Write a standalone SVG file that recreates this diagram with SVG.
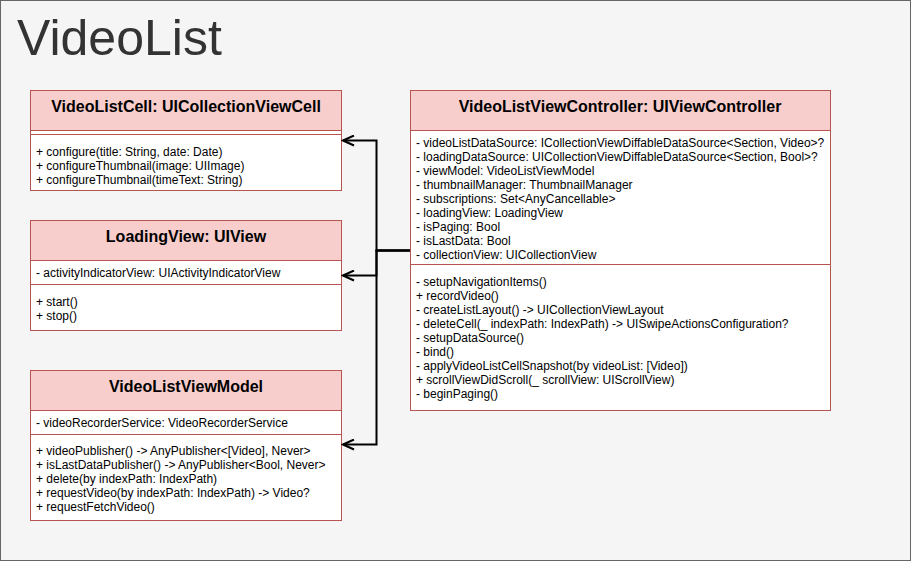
<svg xmlns="http://www.w3.org/2000/svg" width="911" height="561" viewBox="0 0 911 561">
<style>
.hd{fill:#f8cecc;stroke:#b85450;stroke-width:1}
.bd{fill:#ffffff;stroke:#b85450;stroke-width:1}
.dv{stroke:#b85450;stroke-width:1;fill:none}
.tt{font-family:"Liberation Sans",Arial,Helvetica,sans-serif;font-weight:bold;font-size:16px;fill:#000;text-anchor:middle}
.tx{font-family:"Liberation Sans",Arial,Helvetica,sans-serif;font-size:12px;fill:#000}
.cn{stroke:#000;stroke-width:2;fill:none}
</style>
<defs>
<marker id="open" viewBox="0 0 14 12" refX="12" refY="6" markerWidth="14" markerHeight="12" markerUnits="userSpaceOnUse" orient="auto">
<path d="M1,1 L12,6 L1,11" fill="none" stroke="#000" stroke-width="2"/>
</marker>
</defs>
<rect x="0.5" y="0.5" width="910" height="560" fill="#f5f5f5" stroke="#666666" stroke-width="1"/>
<text x="17" y="55" font-family="'Liberation Sans',Arial,Helvetica,sans-serif" font-size="50" fill="#333333">VideoList</text>

<g id="VideoListCell">
<rect class="bd" x="30.5" y="90.5" width="311" height="100"/>
<rect class="hd" x="30.5" y="90.5" width="311" height="40"/>
<line class="dv" x1="30.5" y1="134.5" x2="341.5" y2="134.5"/>
<text class="tt" x="186" y="112">VideoListCell: UICollectionViewCell</text>
<text class="tx" x="36" y="156">+ configure(title: String, date: Date)</text>
<text class="tx" x="36" y="170">+ configureThumbnail(image: UIImage)</text>
<text class="tx" x="36" y="184">+ configureThumbnail(timeText: String)</text>
</g>

<g id="LoadingView">
<rect class="bd" x="30.5" y="220.5" width="311" height="110"/>
<rect class="hd" x="30.5" y="220.5" width="311" height="40"/>
<line class="dv" x1="30.5" y1="284.5" x2="341.5" y2="284.5"/>
<text class="tt" x="186" y="242">LoadingView: UIView</text>
<text class="tx" x="36" y="277">- activityIndicatorView: UIActivityIndicatorView</text>
<text class="tx" x="36" y="306">+ start()</text>
<text class="tx" x="36" y="320">+ stop()</text>
</g>

<g id="VideoListViewModel">
<rect class="bd" x="30.5" y="370.5" width="311" height="150"/>
<rect class="hd" x="30.5" y="370.5" width="311" height="40"/>
<line class="dv" x1="30.5" y1="434.5" x2="341.5" y2="434.5"/>
<text class="tt" x="186" y="392">VideoListViewModel</text>
<text class="tx" x="36" y="427">- videoRecorderService: VideoRecorderService</text>
<text class="tx" x="36" y="455">+ videoPublisher() -&gt; AnyPublisher&lt;[Video], Never&gt;</text>
<text class="tx" x="36" y="469">+ isLastDataPublisher() -&gt; AnyPublisher&lt;Bool, Never&gt;</text>
<text class="tx" x="36" y="483">+ delete(by indexPath: IndexPath)</text>
<text class="tx" x="36" y="497">+ requestVideo(by indexPath: IndexPath) -&gt; Video?</text>
<text class="tx" x="36" y="511">+ requestFetchVideo()</text>
</g>

<g id="VideoListViewController">
<rect class="bd" x="410.5" y="90.5" width="420" height="320"/>
<rect class="hd" x="410.5" y="90.5" width="420" height="40"/>
<line class="dv" x1="410.5" y1="264.5" x2="830.5" y2="264.5"/>
<text class="tt" x="620" y="112">VideoListViewController: UIViewController</text>
<text class="tx" x="416" y="147">- videoListDataSource: ICollectionViewDiffableDataSource&lt;Section, Video&gt;?</text>
<text class="tx" x="416" y="161">- loadingDataSource: UICollectionViewDiffableDataSource&lt;Section, Bool&gt;?</text>
<text class="tx" x="416" y="175">- viewModel: VideoListViewModel</text>
<text class="tx" x="416" y="189">- thumbnailManager: ThumbnailManager</text>
<text class="tx" x="416" y="203">- subscriptions: Set&lt;AnyCancellable&gt;</text>
<text class="tx" x="416" y="217">- loadingView: LoadingView</text>
<text class="tx" x="416" y="231">- isPaging: Bool</text>
<text class="tx" x="416" y="245">- isLastData: Bool</text>
<text class="tx" x="416" y="259">- collectionView: UICollectionView</text>
<text class="tx" x="416" y="286">- setupNavigationItems()</text>
<text class="tx" x="416" y="300">+ recordVideo()</text>
<text class="tx" x="416" y="314">- createListLayout() -&gt; UICollectionViewLayout</text>
<text class="tx" x="416" y="328">- deleteCell(_ indexPath: IndexPath) -&gt; UISwipeActionsConfiguration?</text>
<text class="tx" x="416" y="342">- setupDataSource()</text>
<text class="tx" x="416" y="356">- bind()</text>
<text class="tx" x="416" y="370">- applyVideoListCellSnapshot(by videoList: [Video])</text>
<text class="tx" x="416" y="384">+ scrollViewDidScroll(_ scrollView: UIScrollView)</text>
<text class="tx" x="416" y="398">- beginPaging()</text>
</g>

<g id="connectors">
<path class="cn" d="M410,250.5 H376.5 V140.5 H343" marker-end="url(#open)"/>
<path class="cn" d="M410,250.5 H376.5 V275.5 H343" marker-end="url(#open)"/>
<path class="cn" d="M410,250.5 H376.5 V444.5 H343" marker-end="url(#open)"/>
</g>
</svg>
